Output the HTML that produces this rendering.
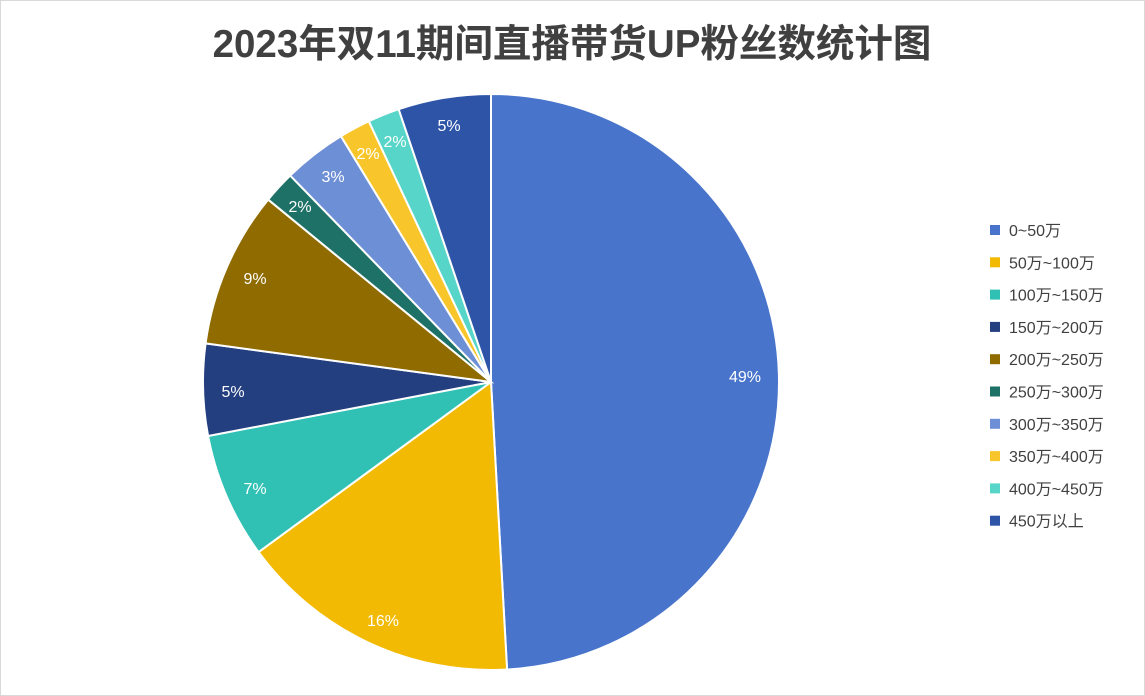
<!DOCTYPE html>
<html><head><meta charset="utf-8">
<style>
html,body{margin:0;padding:0;background:#fff;}
body{width:1145px;height:696px;overflow:hidden;}
svg{display:block;font-family:"Liberation Sans","Noto Sans CJK SC",sans-serif;}
</style></head>
<body>
<svg id="s" width="1145" height="696" viewBox="0 0 1145 696">
<rect x="0.5" y="0.5" width="1144" height="695" fill="#fff" stroke="#d9d9d9"/>
<text x="572" y="57" text-anchor="middle" font-size="38.5" font-weight="bold" fill="#404040">2023年双11期间直播带货UP粉丝数统计图</text>
<g id="pie"></g>
<g id="lab" font-size="16" fill="#fff" text-anchor="middle">
<text x="745" y="382">49%</text>
<text x="383" y="626">16%</text>
<text x="255" y="494">7%</text>
<text x="233" y="397">5%</text>
<text x="255" y="284">9%</text>
<text x="300" y="212">2%</text>
<text x="333" y="182">3%</text>
<text x="368" y="159">2%</text>
<text x="395" y="147">2%</text>
<text x="449" y="131">5%</text>
</g>
<g id="leg" font-size="16" fill="#404040"></g>
</svg>
<script>
var cx=491,cy=382,r=288;
var ends=[0,176.8,233.8,259.2,277.7,309.3,315.8,328.6,334.9,341.3,360];
var cols=["#4874CB","#F2BA02","#30C0B4","#243F7F","#8F6B00","#1E7166","#6D8FD6","#F8C62B","#57D5C8","#2E54A8"];
var names=["0~50万","50万~100万","100万~150万","150万~200万","200万~250万","250万~300万","300万~350万","350万~400万","400万~450万","450万以上"];
var ns="http://www.w3.org/2000/svg",g=document.getElementById("pie"),lg=document.getElementById("leg");
function pt(a){a=a*Math.PI/180;return [cx+r*Math.sin(a),cy-r*Math.cos(a)];}
for(var i=0;i<10;i++){
 var a=pt(ends[i]),b=pt(ends[i+1]),large=(ends[i+1]-ends[i])>180?1:0;
 var p=document.createElementNS(ns,"path");
 p.setAttribute("d","M"+cx+","+cy+"L"+a[0]+","+a[1]+"A"+r+","+r+" 0 "+large+" 1 "+b[0]+","+b[1]+"Z");
 p.setAttribute("fill",cols[i]);p.setAttribute("stroke","#fff");p.setAttribute("stroke-width","2");
 g.appendChild(p);
 var y=230+i*32.3;
 var rc=document.createElementNS(ns,"rect");
 rc.setAttribute("x",990);rc.setAttribute("y",y-5);rc.setAttribute("width",10);rc.setAttribute("height",10);rc.setAttribute("fill",cols[i]);
 lg.appendChild(rc);
 var t=document.createElementNS(ns,"text");
 t.setAttribute("x",1009);t.setAttribute("y",y+6);t.textContent=names[i];
 lg.appendChild(t);
}
</script>
</body></html>
